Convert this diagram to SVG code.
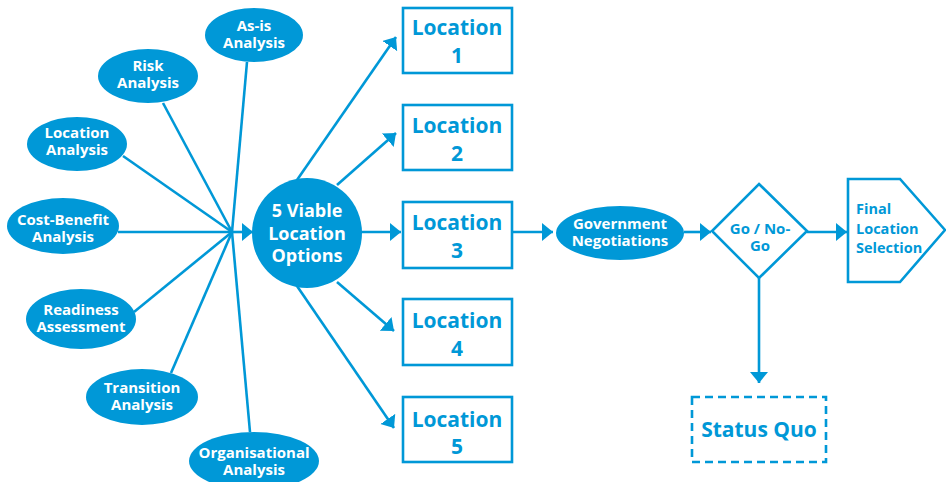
<svg xmlns="http://www.w3.org/2000/svg" width="946" height="482" viewBox="0 0 946 482">
<defs>
<style>
.fill{fill:#0098d7;}
.box{fill:#fff;stroke:#0098d7;stroke-width:2.6;}
.ln{stroke:#0098d7;stroke-width:2.6;fill:none;}
.wt{fill:#fff;font-family:"Open Sans",Arial,sans-serif;font-weight:700;font-size:15px;text-anchor:middle;}
.bt{fill:#0098d7;font-family:"Open Sans",Arial,sans-serif;font-weight:700;font-size:21px;text-anchor:middle;}
</style>
<marker id="ah" markerUnits="userSpaceOnUse" markerWidth="12" markerHeight="19" refX="11" refY="9" orient="auto" viewBox="0 0 12 19">
<path d="M0,0 L11,9 L0,18 z" fill="#0098d7"/>
</marker>
</defs>
<rect width="946" height="482" fill="#fff"/>
<g id="connectors">
<line class="ln" x1="247" y1="62" x2="232" y2="232"/>
<line class="ln" x1="163" y1="103" x2="232" y2="232"/>
<line class="ln" x1="123" y1="156" x2="232" y2="232"/>
<line class="ln" x1="118" y1="232" x2="232" y2="232"/>
<line class="ln" x1="134" y1="312" x2="232" y2="232"/>
<line class="ln" x1="171" y1="373" x2="232" y2="232"/>
<line class="ln" x1="250" y1="432" x2="232" y2="232"/>
<line class="ln" x1="232" y1="232" x2="253" y2="232" marker-end="url(#ah)"/>
<line class="ln" x1="297" y1="180" x2="396" y2="37" marker-end="url(#ah)"/>
<line class="ln" x1="337" y1="185" x2="396" y2="133" marker-end="url(#ah)"/>
<line class="ln" x1="360" y1="232" x2="401" y2="232" marker-end="url(#ah)"/>
<line class="ln" x1="337" y1="282" x2="394" y2="331" marker-end="url(#ah)"/>
<line class="ln" x1="297" y1="286" x2="394" y2="428" marker-end="url(#ah)"/>
<line class="ln" x1="512" y1="232" x2="553" y2="232" marker-end="url(#ah)"/>
<line class="ln" x1="684" y1="232" x2="711" y2="232" marker-end="url(#ah)"/>
<line class="ln" x1="807" y1="232" x2="847" y2="232" marker-end="url(#ah)"/>
<line class="ln" x1="759" y1="278" x2="759" y2="383" marker-end="url(#ah)"/>
</g>
<g id="asis"><ellipse class="fill" cx="254" cy="35" rx="49" ry="27"/><text class="wt" x="254" y="31">As-is</text><text class="wt" x="254" y="48">Analysis</text></g>
<g id="risk"><ellipse class="fill" cx="148" cy="76" rx="50" ry="27"/><text class="wt" x="148" y="71">Risk</text><text class="wt" x="148" y="88">Analysis</text></g>
<g id="locana"><ellipse class="fill" cx="77" cy="144" rx="50" ry="27"/><text class="wt" x="77" y="138">Location</text><text class="wt" x="77" y="155">Analysis</text></g>
<g id="costben"><ellipse class="fill" cx="63" cy="226" rx="56" ry="28"/><text class="wt" x="63" y="225">Cost-Benefit</text><text class="wt" x="63" y="242">Analysis</text></g>
<g id="readiness"><ellipse class="fill" cx="81" cy="319" rx="55" ry="30"/><text class="wt" x="81" y="315">Readiness</text><text class="wt" x="81" y="332">Assessment</text></g>
<g id="transition"><ellipse class="fill" cx="142" cy="397" rx="56" ry="28"/><text class="wt" x="142" y="393">Transition</text><text class="wt" x="142" y="410">Analysis</text></g>
<g id="organisational"><ellipse class="fill" cx="254" cy="461" rx="65" ry="29"/><text class="wt" x="254" y="458">Organisational</text><text class="wt" x="254" y="475">Analysis</text></g>
<g id="viable"><circle class="fill" cx="307" cy="233" r="55"/><text class="wt" style="font-size:18px" x="307" y="217">5 Viable</text><text class="wt" style="font-size:18px" x="307" y="240">Location</text><text class="wt" style="font-size:18px" x="307" y="262">Options</text></g>
<g id="loc1"><rect class="box" x="403" y="8" width="109" height="65"/><text class="bt" x="457" y="35">Location</text><text class="bt" x="457" y="63">1</text></g>
<g id="loc2"><rect class="box" x="403" y="105" width="109" height="65"/><text class="bt" x="457" y="133">Location</text><text class="bt" x="457" y="161">2</text></g>
<g id="loc3"><rect class="box" x="403" y="202" width="109" height="66"/><text class="bt" x="457" y="230">Location</text><text class="bt" x="457" y="258">3</text></g>
<g id="loc4"><rect class="box" x="403" y="299" width="109" height="66"/><text class="bt" x="457" y="328">Location</text><text class="bt" x="457" y="356">4</text></g>
<g id="loc5"><rect class="box" x="403" y="397" width="109" height="65"/><text class="bt" x="457" y="427">Location</text><text class="bt" x="457" y="454">5</text></g>
<g id="gov"><ellipse class="fill" cx="620" cy="233" rx="64" ry="27"/><text class="wt" x="620" y="229">Government</text><text class="wt" x="620" y="246">Negotiations</text></g>
<g id="gonogo"><polygon class="box" points="759,184 807,231 759,278 712,231"/><text class="bt" style="font-size:15px" x="760" y="234">Go / No-</text><text class="bt" style="font-size:15px" x="760" y="251">Go</text></g>
<g id="final"><polygon class="box" points="848,179 900,179 945,230 900,282 848,282"/><text class="bt" style="font-size:14.5px;text-anchor:start" x="856" y="214">Final</text><text class="bt" style="font-size:14.5px;text-anchor:start" x="856" y="234">Location</text><text class="bt" style="font-size:14.5px;text-anchor:start" x="856" y="253">Selection</text></g>
<g id="statusquo"><rect class="box" x="692" y="397" width="134" height="65" stroke-dasharray="8,5"/><text class="bt" x="759" y="437">Status Quo</text></g>
</svg>
